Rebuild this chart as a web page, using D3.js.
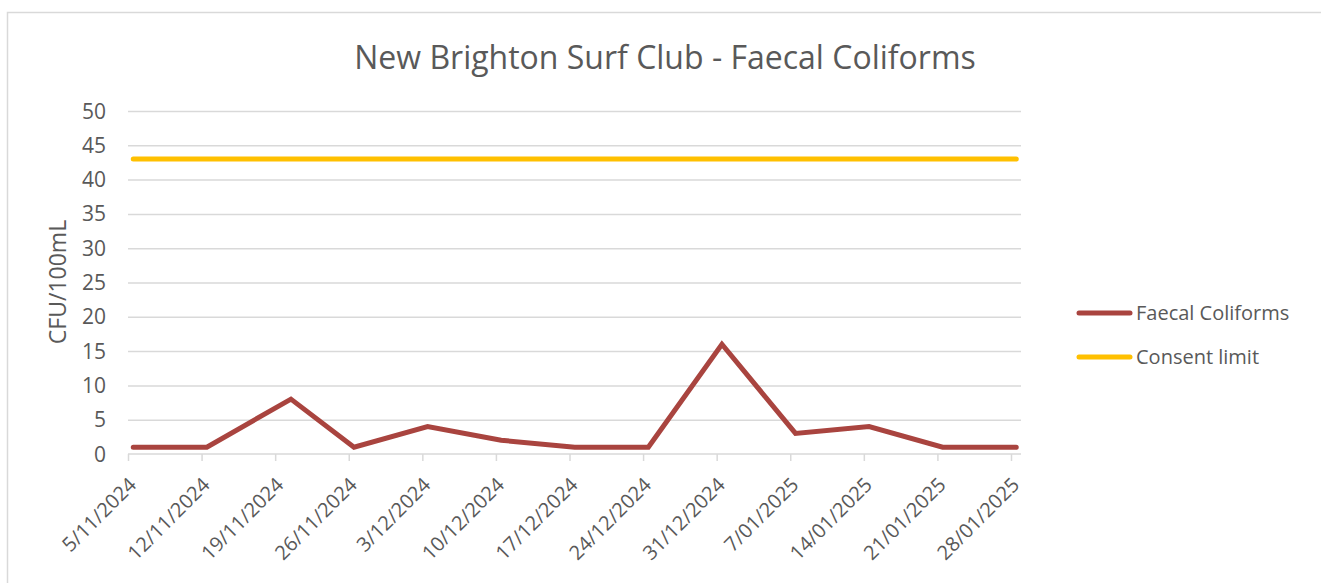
<!DOCTYPE html>
<html>
<head>
<meta charset="utf-8">
<script src="https://cdn.jsdelivr.net/npm/d3@7"></script>
<style>
    body { margin: 0; background: #fff; }
    #chart { width: 1321px; height: 583px; }
    text { font-family: "Open Sans", sans-serif; fill: #595959; }
    .grid line { stroke: #d9d9d9; stroke-width: 1.5; }
    .grid path { display: none; }
</style>
</head>
<body>
<div id="chart"><svg width="1321" height="583"></svg></div>
<script>

// sample dates (weekly, one shifted a day)
const sampleDates = ["2024-11-05", "2024-11-12", "2024-11-20", "2024-11-26", "2024-12-03",
    "2024-12-10", "2024-12-17", "2024-12-24", "2024-12-31", "2025-01-07",
    "2025-01-14", "2025-01-21", "2025-01-28"];

const faecalColiforms = [1, 1, 8, 1, 4, 2, 1, 1, 16, 3, 4, 1, 1];
const consentLimit = [43, 43, 43, 43, 43, 43, 43, 43, 43, 43, 43, 43, 43];

// axis tick dates
const tickDates = ["2024-11-05", "2024-11-12", "2024-11-19", "2024-11-26", "2024-12-03",
    "2024-12-10", "2024-12-17", "2024-12-24", "2024-12-31", "2025-01-07",
    "2025-01-14", "2025-01-21", "2025-01-28"];

const yTicks = [0, 5, 10, 15, 20, 25, 30, 35, 40, 45, 50];

const seriesNames = ["Faecal Coliforms", "Consent limit"];
const seriesColors = ["#a9443f", "#ffc000"];

/**********************
***** BASIC SETUP *****
**********************/

const parseDate = d3.timeParse("%Y-%m-%d");
const fmtDate = d3.timeFormat("%-d/%m/%Y");

const margin = {top: 111, left: 128, right: 300, bottom: 129};
const width = 1321, height = 583;
const plotRight = 1021;

const svg = d3.select("#chart").select("svg");

// chart border
svg.append("rect")
    .attr("x", 7.5).attr("y", 12.5)
    .attr("width", 1330).attr("height", 600)
    .attr("fill", "none")
    .attr("stroke", "#d9d9d9")
    .attr("stroke-width", 1.5);

/***********************
***** X & Y SCALES *****
***********************/

const ticks = tickDates.map(parseDate);

const xScale = d3.scaleTime()
    .domain(d3.extent(ticks))
    .range([margin.left, 1011]);

const yScale = d3.scaleLinear()
    .domain([0, 50])
    .range([height - margin.bottom, margin.top]);

// excel puts each point at the middle of its day
const xPoint = s => xScale(d3.timeHour.offset(parseDate(s), 12));

/*************************
***** GRID & Y AXIS *****
*************************/

svg.append("g")
    .attr("class", "grid")
    .attr("transform", `translate(${margin.left}, 0)`)
    .call(d3.axisRight(yScale)
        .tickValues(yTicks.slice(1))
        .tickSize(plotRight - margin.left)
        .tickFormat(""));

svg.selectAll(".yLabel")
    .data(yTicks)
    .enter()
    .append("text")
    .attr("class", "yLabel")
    .attr("x", 106)
    .attr("y", d => yScale(d))
    .attr("dy", "0.36em")
    .attr("text-anchor", "end")
    .style("font-size", "21px")
    .text(d => d);

svg.append("text")
    .attr("transform", `translate(66, 282) rotate(-90)`)
    .attr("text-anchor", "middle")
    .style("font-size", "23px")
    .text("CFU/100mL");

/****************
***** X AXIS *****
****************/

const xAxis = svg.append("g")
    .attr("transform", `translate(0, ${yScale(0)})`)
    .call(d3.axisBottom(xScale)
        .tickValues(ticks)
        .tickSize(7)
        .tickSizeOuter(0)
        .tickFormat(fmtDate));

xAxis.select(".domain")
    .attr("d", `M${margin.left},0H${plotRight}`)
    .attr("stroke", "#d9d9d9")
    .attr("stroke-width", 1.5);

xAxis.selectAll(".tick line")
    .attr("stroke", "#d9d9d9")
    .attr("stroke-width", 1.5);

xAxis.selectAll(".tick text")
    .attr("fill", "#595959")
    .style("font-size", "20px")
    .attr("text-anchor", "end")
    .attr("transform", "translate(4, 27) rotate(-45)")
    .attr("dy", "0.36em")
    .attr("y", 0)
    .attr("x", 0);

/****************
***** LINES *****
****************/

const line = d3.line()
    .x((d, i) => xPoint(sampleDates[i]))
    .y(d => yScale(d));

svg.selectAll(".series")
    .data([consentLimit, faecalColiforms])
    .enter()
    .append("path")
    .attr("class", "series")
    .attr("d", line)
    .attr("fill", "none")
    .attr("stroke", (d, i) => i === 0 ? seriesColors[1] : seriesColors[0])
    .attr("stroke-width", 5)
    .attr("stroke-linejoin", "miter")
    .attr("stroke-linecap", "round");

/*****************
***** LEGEND *****
*****************/

const legend = svg.append("g")
    .selectAll("g")
    .data(seriesNames)
    .enter()
    .append("g")
    .attr("transform", (d, i) => `translate(1079, ${313 + i * 44})`);

legend.append("line")
    .attr("x1", 0).attr("x2", 51)
    .attr("stroke", (d, i) => seriesColors[i])
    .attr("stroke-width", 5)
    .attr("stroke-linecap", "round");

legend.append("text")
    .attr("x", 57)
    .attr("dy", "0.36em")
    .style("font-size", "20px")
    .text(d => d);

/****************
***** TITLE *****
****************/

svg.append("text")
    .attr("x", 665)
    .attr("y", 69)
    .attr("text-anchor", "middle")
    .style("font-size", "32px")
    .text("New Brighton Surf Club - Faecal Coliforms");

</script>
</body>
</html>
